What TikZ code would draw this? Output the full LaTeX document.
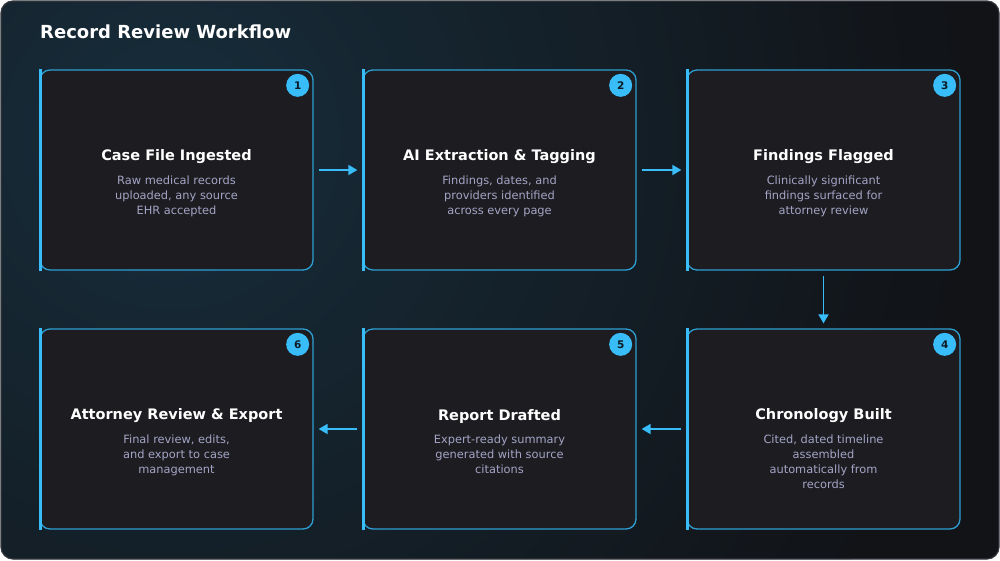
\documentclass[tikz,border=0pt]{standalone}
\usepackage{fontspec}
\setmainfont{DejaVu Sans}
\usetikzlibrary{arrows.meta,positioning}
\definecolor{accent}{HTML}{38BDF8}
\definecolor{cardfill}{HTML}{1C1C21}
\definecolor{cardedge}{HTML}{2E9FD3}
\definecolor{desctext}{HTML}{A4A4C6}
\definecolor{bgdark}{HTML}{111317}
\definecolor{bgglow}{HTML}{172D3B}
\definecolor{frameedge}{HTML}{34373E}
\definecolor{badgetext}{HTML}{0E1A24}
\tikzset{
    card/.style={draw=cardedge, line width=1.3pt, fill=cardfill, rounded corners=10pt,
        minimum width=273pt, minimum height=200pt},
    cardtitle/.style={text=white, font=\fontsize{14.5}{17}\selectfont\bfseries},
    carddesc/.style={text=desctext, align=center, inner sep=0pt, font=\fontsize{11.4}{15}\selectfont},
    badge/.style={circle, fill=accent, minimum size=23pt, inner sep=0pt, text=badgetext,
        font=\fontsize{10.5}{12}\selectfont\bfseries},
    accentbar/.style={draw=accent, line width=3pt},
    flow/.style={draw=accent, line width=1.8pt, -{Triangle[length=9pt,width=10pt]},
        shorten <=5pt, shorten >=5pt}
}
\begin{document}
\begin{tikzpicture}[x=1pt, y=-1pt]
        % panel
        \useasboundingbox (0,0) rectangle (1000,560);
        \begin{scope}
            \clip[rounded corners=12pt] (1,1) rectangle (999,559);
            \fill[bgdark] (0,0) rectangle (1000,560);
            \shade[inner color=bgglow, outer color=bgdark] (170,140) circle (800);
        \end{scope}
        \draw[frameedge, line width=1.2pt, rounded corners=12pt] (1,1) rectangle (999,559);

        \node[anchor=base west, inner sep=0pt, text=white, font=\fontsize{18}{21}\selectfont\bfseries] (title) at (40,38) {Record Review Workflow};

        \node[card] (c1) at (176.5,170) {};
        \node[card] (c2) at (499.5,170) {};
        \node[card] (c3) at (823.5,170) {};
        \node[card] (c4) at (823.5,429) {};
        \node[card] (c5) at (499.5,429) {};
        \node[card] (c6) at (176.5,429) {};

        \foreach \c/\n in {c1/1, c2/2, c3/3, c4/4, c5/5, c6/6} {
            \draw[accentbar] ([xshift=1.5pt]\c.north west) -- ([xshift=1.5pt]\c.south west);
            \node[badge] (b\n) at ([xshift=-16pt, yshift=-16pt]\c.north east) {\n};
        }

        \node[cardtitle] (t1) at ([yshift=13pt]c1.center) {Case File Ingested};
        \node[carddesc, below=8pt of t1] (d1) {Raw medical records\\uploaded, any source\\EHR accepted};
        \node[cardtitle] (t2) at ([yshift=13pt]c2.center) {AI Extraction \& Tagging};
        \node[carddesc, below=8pt of t2] (d2) {Findings, dates, and\\providers identified\\across every page};
        \node[cardtitle] (t3) at ([yshift=13pt]c3.center) {Findings Flagged};
        \node[carddesc, below=8pt of t3] (d3) {Clinically significant\\findings surfaced for\\attorney review};
        \node[cardtitle] (t4) at ([yshift=13pt]c4.center) {Chronology Built};
        \node[carddesc, below=8pt of t4] (d4) {Cited, dated timeline\\assembled\\automatically from\\records};
        \node[cardtitle] (t5) at ([yshift=13pt]c5.center) {Report Drafted};
        \node[carddesc, below=8pt of t5] (d5) {Expert-ready summary\\generated with source\\citations};
        \node[cardtitle] (t6) at ([yshift=13pt]c6.center) {Attorney Review \& Export};
        \node[carddesc, below=8pt of t6] (d6) {Final review, edits,\\and export to case\\management};

        \draw[flow] (c1) -- (c2);
        \draw[flow] (c2) -- (c3);
        \draw[flow] (c3) -- (c4);
        \draw[flow] (c4) -- (c5);
        \draw[flow] (c5) -- (c6);
\end{tikzpicture}
\end{document}
